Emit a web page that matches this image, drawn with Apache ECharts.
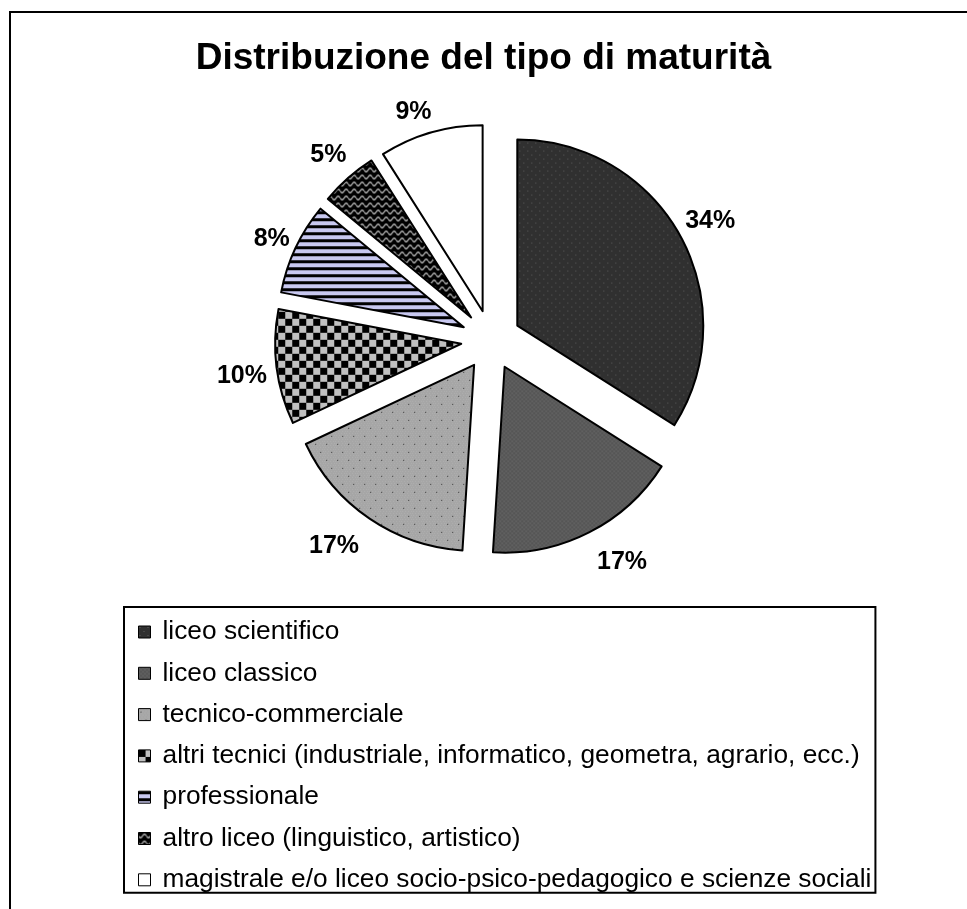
<!DOCTYPE html>
<html>
<head>
<meta charset="utf-8">
<title>Distribuzione del tipo di maturità</title>
<script src="https://cdn.jsdelivr.net/npm/echarts@6/dist/echarts.min.js"></script>
<style>
  html, body { margin: 0; padding: 0; background: #fff; }
  #chart { width: 967px; height: 909px; }
</style>
</head>
<body>
<div id="chart"></div>
<script>
// dati (percentuali)
const categories = [
  'liceo scientifico',
  'liceo classico',
  'tecnico-commerciale',
  'altri tecnici (industriale, informatico, geometra, agrario, ecc.)',
  'professionale',
  'altro liceo (linguistico, artistico)',
  'magistrale e/o liceo socio-psico-pedagogico e scienze sociali'
]
const percentages = [34, 17, 17, 10, 8, 5, 9]
const chartTitle = 'Distribuzione del tipo di maturità'

// piccoli pattern di riempimento, tipo Excel
function makeCanvas (w, h, draw) {
  const c = document.createElement('canvas')
  c.width = w
  c.height = h
  draw(c.getContext('2d'), w, h)
  return c
}

const patScientifico = makeCanvas(8, 8, function (ctx, w, h) {
  ctx.fillStyle = '#303030'
  ctx.fillRect(0, 0, w, h)
  ctx.fillStyle = '#5e5e5e'
  ctx.fillRect(1, 1, 1, 1)
  ctx.fillRect(5, 5, 1, 1)
})

const patClassico = makeCanvas(4, 4, function (ctx, w, h) {
  ctx.fillStyle = '#5a5a5a'
  ctx.fillRect(0, 0, w, h)
  ctx.fillStyle = '#686868'
  ctx.fillRect(0, 0, 1, 1)
  ctx.fillRect(2, 2, 1, 1)
  ctx.fillStyle = '#505050'
  ctx.fillRect(2, 0, 1, 1)
  ctx.fillRect(0, 2, 1, 1)
})

const patTecnico = makeCanvas(11, 16, function (ctx, w, h) {
  ctx.fillStyle = '#a6a6a6'
  ctx.fillRect(0, 0, w, h)
  ctx.fillStyle = '#b2b2b2'
  for (let y = 0; y < h; y += 2) {
    for (let x = (y / 2) % 2; x < w; x += 3) ctx.fillRect(x, y, 1, 1)
  }
  ctx.fillStyle = '#333'
  ctx.fillRect(2, 3, 1, 1)
  ctx.fillRect(7, 11, 1, 1)
})

const patScacchi = makeCanvas(14, 14, function (ctx, w, h) {
  ctx.fillStyle = '#c0c0c0'
  ctx.fillRect(0, 0, w, h)
  ctx.fillStyle = '#000'
  ctx.fillRect(0, 0, 7, 7)
  ctx.fillRect(7, 7, 7, 7)
})

const patRighe = makeCanvas(4, 7, function (ctx, w, h) {
  ctx.fillStyle = '#c8c8f0'
  ctx.fillRect(0, 0, w, h)
  ctx.fillStyle = '#000'
  ctx.fillRect(0, 0, w, 3)
})

const patOnde = makeCanvas(8, 7, function (ctx, w, h) {
  ctx.fillStyle = '#000'
  ctx.fillRect(0, 0, w, h)
  ctx.strokeStyle = '#c4c4c4'
  ctx.lineWidth = 1.2
  ctx.beginPath()
  for (let x = 0; x <= w; x += 0.5) {
    const y = 3.5 + 1.8 * Math.sin(x / w * Math.PI * 2)
    if (x === 0) ctx.moveTo(x, y)
    else ctx.lineTo(x, y)
  }
  ctx.stroke()
})

const fills = [
  { image: patScientifico, repeat: 'repeat' },
  { image: patClassico, repeat: 'repeat' },
  { image: patTecnico, repeat: 'repeat' },
  { image: patScacchi, repeat: 'repeat' },
  { image: patRighe, repeat: 'repeat' },
  { image: patOnde, repeat: 'repeat' },
  '#ffffff'
]

// piccoli spostamenti delle etichette, come le mette Excel
const labelNudge = [[1, 1], [18, 0], [-17, 0], [-2, 5], [6, 5], [2, 2], [-8, 11]]

const pieCenter = [491, 340]

const sliceData = categories.map(function (name, i) {
  return {
    name: name,
    value: percentages[i],
    selected: true,
    itemStyle: { color: fills[i] }
  }
})

// serie trasparente solo per le etichette percentuali
const labelData = categories.map(function (name, i) {
  return { name: name, value: percentages[i], selected: true }
})

const chart = echarts.init(document.getElementById('chart'), null, { renderer: 'canvas' })

const option = {
  animation: false,
  backgroundColor: '#fff',
  title: {
    text: chartTitle,
    left: 'center',
    top: 35,
    textStyle: {
      fontFamily: 'Liberation Sans, Arial, sans-serif',
      fontSize: 37,
      fontWeight: 'bold',
      color: '#000'
    }
  },
  legend: {
    data: categories,
    orient: 'vertical',
    left: 124,
    top: 607,
    icon: 'rect',
    itemWidth: 12,
    itemHeight: 12,
    itemGap: 15.3,
    padding: [12, 4, 0, 14],
    backgroundColor: '#fff',
    borderColor: '#000',
    borderWidth: 2,
    borderRadius: 0,
    selectedMode: false,
    itemStyle: { borderColor: '#000', borderWidth: 1 },
    textStyle: {
      fontFamily: 'Liberation Sans, Arial, sans-serif',
      fontSize: 26.3,
      lineHeight: 26,
      color: '#000',
      padding: [0, 0, 0, 7]
    }
  },
  graphic: [
    {
      type: 'rect',
      silent: true,
      z: -1,
      shape: { x: 10, y: 12, width: 1200, height: 1200 },
      style: { fill: 'none', stroke: '#000', lineWidth: 2 }
    }
  ],
  series: [
    {
      name: 'maturità',
      type: 'pie',
      center: pieCenter,
      radius: [0, 186],
      startAngle: 90,
      clockwise: true,
      selectedMode: 'multiple',
      selectedOffset: 30,
      avoidLabelOverlap: false,
      label: { show: false },
      labelLine: { show: false },
      emphasis: { disabled: true },
      itemStyle: { borderColor: '#000', borderWidth: 2 },
      select: { itemStyle: { borderColor: '#000', borderWidth: 2 } },
      data: sliceData
    },
    {
      name: 'etichette',
      type: 'pie',
      center: pieCenter,
      radius: [200, 232],
      startAngle: 90,
      clockwise: true,
      selectedMode: 'multiple',
      selectedOffset: 30,
      silent: true,
      avoidLabelOverlap: false,
      emphasis: { disabled: true },
      itemStyle: { color: 'rgba(0,0,0,0)', borderWidth: 0 },
      label: {
        show: true,
        position: 'inside',
        formatter: '{c}%',
        fontFamily: 'Liberation Sans, Arial, sans-serif',
        fontSize: 25,
        fontWeight: 'bold',
        color: '#000'
      },
      labelLayout: function (params) {
        const n = labelNudge[params.dataIndex] || [0, 0]
        return { dx: n[0], dy: n[1] }
      },
      select: {
        itemStyle: { color: 'rgba(0,0,0,0)', borderWidth: 0 },
        label: { color: '#000' }
      },
      labelLine: { show: false },
      data: labelData
    }
  ]
}

chart.setOption(option)
</script>
</body>
</html>
